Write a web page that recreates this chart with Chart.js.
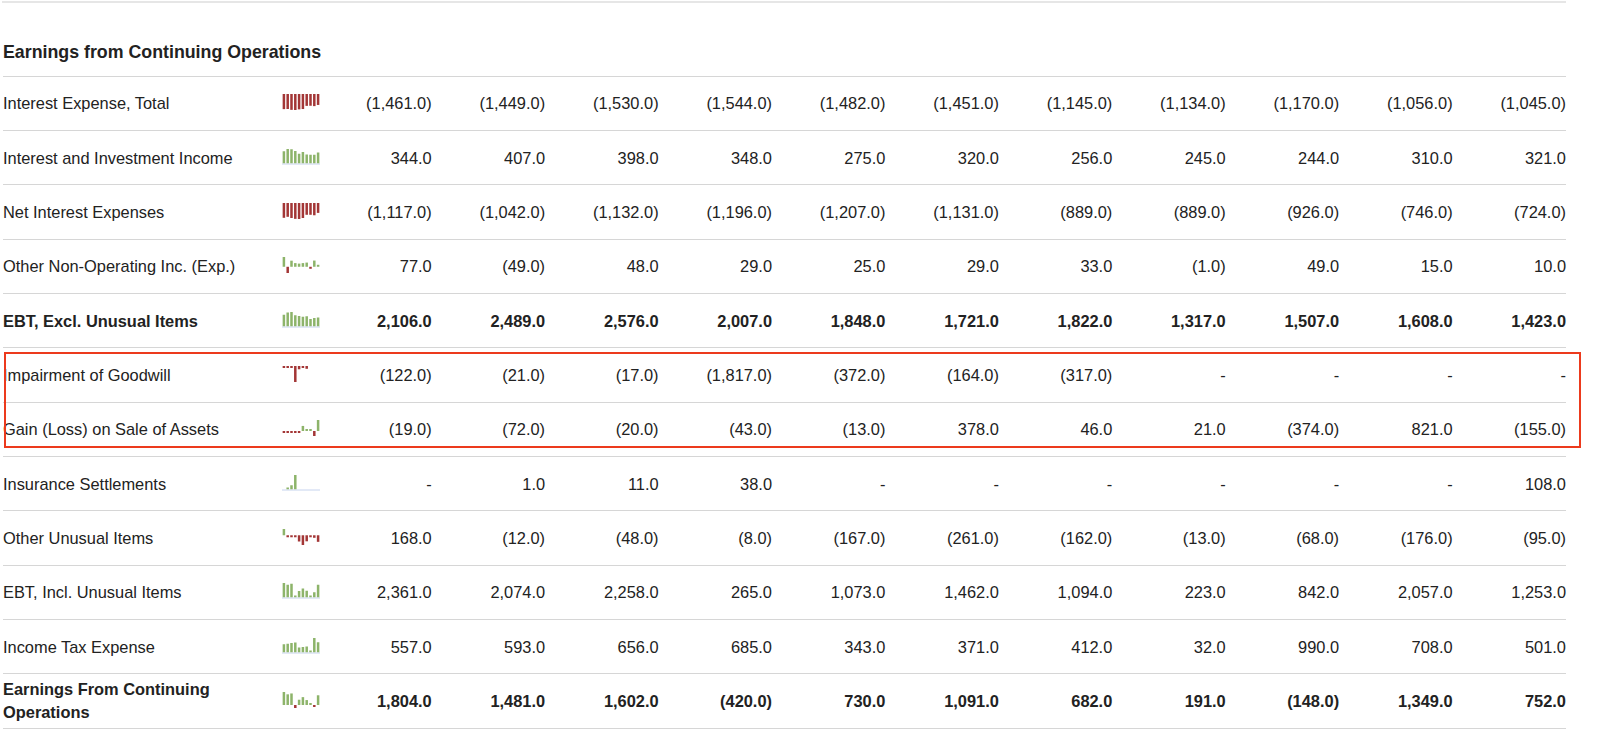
<!DOCTYPE html>
<html><head><meta charset="utf-8">
<script src="https://cdn.jsdelivr.net/npm/chart.js@4.4.1/dist/chart.umd.min.js"></script>
<style>
html,body{margin:0;padding:0;background:#fff;}
body{width:1600px;height:730px;position:relative;overflow:hidden;font-family:"Liberation Sans",Arial,Helvetica,sans-serif;color:#222;}
.hline{position:absolute;left:3px;width:1563px;height:1px;background:#d6d6d6;}
.topline{position:absolute;left:2px;width:1564px;height:2px;top:1px;background:#e6e6e6;}
.lbl{position:absolute;left:3px;font-size:16.4px;white-space:nowrap;line-height:23px;transform:translateY(-50%);}
.hdr{position:absolute;left:3px;font-size:17.8px;font-weight:bold;white-space:nowrap;line-height:22px;transform:translateY(-50%);}
.val{position:absolute;font-size:16.4px;text-align:right;width:110px;white-space:nowrap;line-height:20px;transform:translateY(-50%);}
.b{font-weight:bold;}
.spark{position:absolute;left:282px;}
.box{position:absolute;border:2px solid #ec3a1d;z-index:5;}
</style></head><body>
<div class="topline"></div>
<script>
// ---- data ----
const periods = ['P1','P2','P3','P4','P5','P6','P7','P8','P9','P10','P11'];
const sparkPeriodCount = 10;
const sectionTitle = 'Earnings from Continuing Operations';

const interestExpenseTotal   = [-1461, -1449, -1530, -1544, -1482, -1451, -1145, -1134, -1170, -1056, -1045];
const interestInvestIncome   = [344, 407, 398, 348, 275, 320, 256, 245, 244, 310, 321];
const netInterestExpenses    = [-1117, -1042, -1132, -1196, -1207, -1131, -889, -889, -926, -746, -724];
const otherNonOperating      = [77, -49, 48, 29, 25, 29, 33, -1, 49, 15, 10];
const ebtExclUnusual         = [2106, 2489, 2576, 2007, 1848, 1721, 1822, 1317, 1507, 1608, 1423];
const impairmentGoodwill     = [-122, -21, -17, -1817, -372, -164, -317, null, null, null, null];
const gainLossSaleAssets     = [-19, -72, -20, -43, -13, 378, 46, 21, -374, 821, -155];
const insuranceSettlements   = [null, 1, 11, 38, null, null, null, null, null, null, 108];
const otherUnusualItems      = [168, -12, -48, -8, -167, -261, -162, -13, -68, -176, -95];
const ebtInclUnusual         = [2361, 2074, 2258, 265, 1073, 1462, 1094, 223, 842, 2057, 1253];
const incomeTaxExpense       = [557, 593, 656, 685, 343, 371, 412, 32, 990, 708, 501];
const earningsContinuingOps  = [1804, 1481, 1602, -420, 730, 1091, 682, 191, -148, 1349, 752];

const rowLabels = [
  'Interest Expense, Total',
  'Interest and Investment Income',
  'Net Interest Expenses',
  'Other Non-Operating Inc. (Exp.)',
  'EBT, Excl. Unusual Items',
  'Impairment of Goodwill',
  'Gain (Loss) on Sale of Assets',
  'Insurance Settlements',
  'Other Unusual Items',
  'EBT, Incl. Unusual Items',
  'Income Tax Expense',
  'Earnings From Continuing<br>Operations'
];
const rowSeries = [interestExpenseTotal, interestInvestIncome, netInterestExpenses, otherNonOperating,
  ebtExclUnusual, impairmentGoodwill, gainLossSaleAssets, insuranceSettlements, otherUnusualItems,
  ebtInclUnusual, incomeTaxExpense, earningsContinuingOps];
const boldRows = [4, 11];
const highlightedRows = [5, 6];

// ---- layout ----
const NEG = '#a33636', POS = '#8db46a', BASE = '#c6d3ee';
const firstLine = 76, pitch = 54.36;
const colRight0 = 431.7, colPitch = 113.43;

function fmt(v){
  if (v === null || v === undefined) return '-';
  const s = Math.abs(v).toLocaleString('en-US',{minimumFractionDigits:1,maximumFractionDigits:1});
  return v < 0 ? '(' + s + ')' : s;
}
function el(cls, html, css){
  const d = document.createElement('div');
  d.className = cls; d.innerHTML = html; Object.assign(d.style, css || {});
  document.body.appendChild(d); return d;
}

el('hdr', sectionTitle, {top:'51.7px'});
for (let k = 0; k <= rowSeries.length; k++) {
  el('hline', '', {top: Math.round(firstLine + pitch*k - 0.5) + 'px'});
}

const baselinePlugin = {
  id: 'baseline',
  beforeDatasetsDraw(chart, args, opts){
    if (!opts.show) return;
    const {ctx} = chart;
    const y = chart.scales.y.getPixelForValue(0) + 0.5;
    ctx.save(); ctx.strokeStyle = BASE; ctx.lineWidth = 1;
    ctx.beginPath(); ctx.moveTo(0, y); ctx.lineTo(chart.width, y); ctx.stroke(); ctx.restore();
  }
};

rowSeries.forEach((vals, i) => {
  const center = firstLine + pitch*i + pitch/2;
  const bold = boldRows.includes(i);
  el('lbl' + (bold ? ' b' : ''), rowLabels[i], {top: center.toFixed(1) + 'px'});
  vals.forEach((v, j) => {
    const r = colRight0 + colPitch*j;
    el('val' + (bold ? ' b' : ''), fmt(v), {top: center.toFixed(1) + 'px', left: (r - 110).toFixed(1) + 'px'});
  });
  // sparkline
  const sv = vals.slice(0, sparkPeriodCount);
  const present = sv.filter(v => v !== null);
  const mn = Math.min(0, ...present), mx = Math.max(0, ...present);
  const allPos = mn >= 0;
  const c = document.createElement('canvas');
  c.className = 'spark';
  const H = 16;
  c.width = 38; c.height = H;
  c.style.width = '38px'; c.style.height = H + 'px';
  c.style.top = Math.round(center - 9) + 'px';
  document.body.appendChild(c);
  new Chart(c, {
    type: 'bar',
    data: {
      labels: periods.slice(0, sparkPeriodCount),
      datasets: [{
        data: sv,
        backgroundColor: sv.map(v => (v !== null && v < 0) ? NEG : POS),
        borderWidth: 0,
        barPercentage: 0.66,
        categoryPercentage: 1,
        minBarLength: 2
      }]
    },
    options: {
      responsive: false, animation: false, devicePixelRatio: 1,
      layout: {padding: {top: 0, bottom: allPos ? 1.5 : 0, left: 0, right: 0}},
      plugins: {legend: {display: false}, tooltip: {enabled: false}, baseline: {show: allPos}},
      scales: {
        x: {display: false, offset: true},
        y: {display: false, min: mn, max: mx}
      }
    },
    plugins: [baselinePlugin]
  });
});

// highlight box
const bTop = Math.round(firstLine + pitch*highlightedRows[0] + 4.5);
const bBot = Math.round(firstLine + pitch*(highlightedRows[highlightedRows.length-1] + 1) - 8.5);
el('box', '', {left: '4px', top: bTop + 'px', width: '1573px', height: (bBot - bTop - 4) + 'px'});
</script>
</body></html>
